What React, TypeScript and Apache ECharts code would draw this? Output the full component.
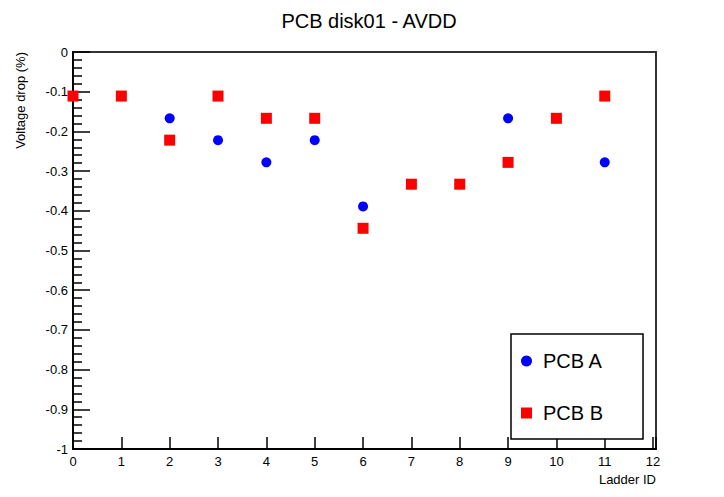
import React, { useEffect, useRef } from "react";
import * as echarts from "echarts";

const ladderIds = [0, 1, 2, 3, 4, 5, 6, 7, 8, 9, 10, 11];
const pcbA = [-0.111, -0.111, -0.167, -0.222, -0.278, -0.222, -0.389, -0.333, -0.333, -0.167, -0.167, -0.278];
const pcbB = [-0.111, -0.111, -0.222, -0.111, -0.167, -0.167, -0.444, -0.333, -0.333, -0.278, -0.167, -0.111];
const titleText = "PCB disk01 - AVDD";
const xName = "Ladder ID";
const yName = "Voltage drop (%)";

const FONT = "'Liberation Sans', Arial, Helvetica, sans-serif";

export default function App() {
  const ref = useRef<HTMLDivElement>(null);
  useEffect(() => {
    if (!ref.current) return;
    const chart = echarts.init(ref.current, undefined, { renderer: "svg" });
    chart.setOption({
      animation: false,
      backgroundColor: "#ffffff",
      title: {
        text: titleText,
        left: 364,
        top: 6,
        textAlign: "center",
        textStyle: { fontFamily: FONT, fontSize: 20, fontWeight: "normal", color: "#000" },
      },
      grid: {
        left: 73,
        top: 52,
        width: 583,
        height: 397,
        show: true,
        borderColor: "#333",
        borderWidth: 2,
        backgroundColor: "transparent",
      },
      xAxis: {
        type: "value",
        min: 0,
        max: 12.06,
        interval: 1,
        axisLine: { show: true, onZero: false, lineStyle: { color: "#000", width: 2 } },
        axisTick: { show: true, inside: true, length: 12, lineStyle: { color: "#000", width: 1.5 } },
        minorTick: { show: false },
        splitLine: { show: false },
        axisLabel: {
          margin: 6,
          fontFamily: FONT,
          fontSize: 13,
          color: "#000",
          formatter: (v: number) => (Math.abs(v - Math.round(v)) < 1e-6 ? String(Math.round(v)) : ""),
        },
      },
      yAxis: {
        type: "value",
        min: -1,
        max: 0,
        interval: 0.1,
        axisLine: { show: true, onZero: false, lineStyle: { color: "#000", width: 2 } },
        axisTick: { show: true, inside: true, length: 17, lineStyle: { color: "#000", width: 1.5 } },
        minorTick: { show: true, splitNumber: 5, length: 9, lineStyle: { color: "#000", width: 1.5 } },
        splitLine: { show: false },
        axisLabel: {
          margin: 5,
          fontFamily: FONT,
          fontSize: 13,
          color: "#000",
          formatter: (v: number) => {
            const r = Math.round(v * 10) / 10;
            if (r === 0) return "0";
            if (r === -1) return "-1";
            return r.toFixed(1);
          },
        },
      },
      legend: {
        orient: "vertical",
        left: 511,
        top: 334,
        padding: [16, 40, 15, 10],
        itemGap: 30,
        itemWidth: 11,
        itemHeight: 11,
        borderColor: "#000",
        borderWidth: 1.5,
        backgroundColor: "#fff",
        textStyle: { fontFamily: FONT, fontSize: 20, color: "#000", padding: [0, 0, 0, 6], lineHeight: 22 },
        data: [
          { name: "PCB A", icon: "circle" },
          { name: "PCB B", icon: "rect" },
        ],
      },
      graphic: [
        {
          type: "text",
          x: 20,
          y: 52,
          rotation: Math.PI / 2,
          style: {
            text: yName,
            align: "right",
            verticalAlign: "middle",
            fontFamily: FONT,
            fontSize: 13,
            fill: "#000",
          },
        },
        {
          type: "text",
          x: 656,
          y: 479,
          style: {
            text: xName,
            align: "right",
            verticalAlign: "middle",
            fontFamily: FONT,
            fontSize: 13,
            fill: "#000",
          },
        },
      ],
      series: [
        {
          name: "PCB A",
          type: "scatter",
          symbol: "circle",
          symbolSize: 10,
          itemStyle: { color: "#0000ff", opacity: 1 },
          data: ladderIds.map((x, i) => [x, pcbA[i]]),
          z: 2,
        },
        {
          name: "PCB B",
          type: "scatter",
          symbol: "rect",
          symbolSize: 11,
          itemStyle: { color: "#ff0000", opacity: 1 },
          data: ladderIds.map((x, i) => [x, pcbB[i]]),
          z: 3,
        },
      ],
    });
    return () => chart.dispose();
  }, []);
  return (
    <div
      ref={ref}
      style={{ position: "fixed", left: 0, top: 0, width: 724, height: 497, background: "#fff" }}
    />
  );
}
